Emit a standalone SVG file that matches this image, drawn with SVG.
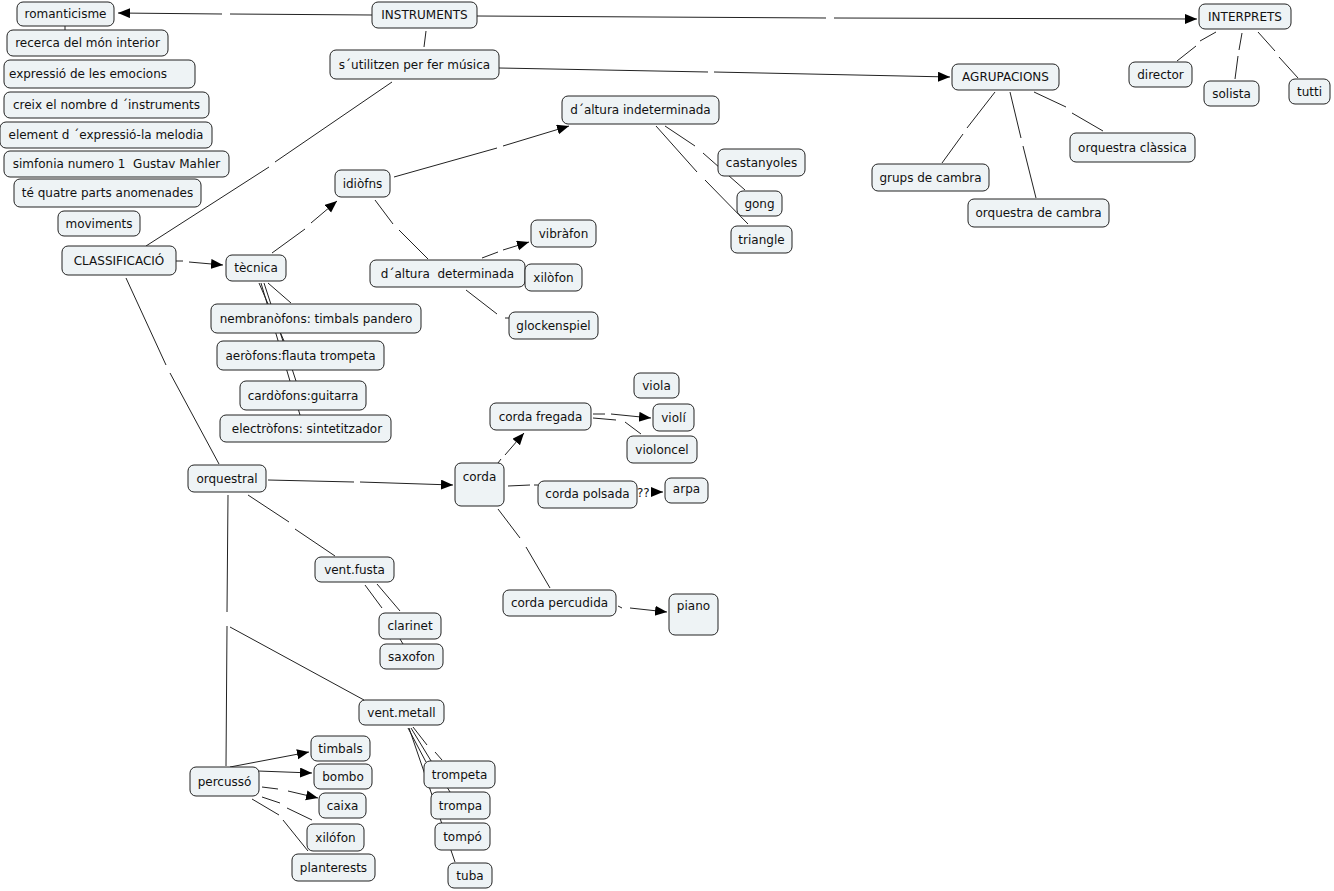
<svg xmlns="http://www.w3.org/2000/svg" width="1334" height="891" viewBox="0 0 1334 891">
<defs>
<marker id="arr" markerUnits="userSpaceOnUse" markerWidth="13" markerHeight="11" refX="12" refY="5" orient="auto"><path d="M0,0 L12,5 L0,10 z" fill="#000"/></marker>
<style>
.n rect{fill:#eef3f5;stroke:#222;stroke-width:1}
.n text{font-family:"DejaVu Sans",Verdana,sans-serif;font-size:12px;fill:#111;text-anchor:middle;white-space:pre}
#links path{fill:none;stroke:#222;stroke-width:1}
#links .a{marker-end:url(#arr)}
.lbl{font-family:"DejaVu Sans",Verdana,sans-serif;font-size:12px;fill:#111}
</style>
</defs>
<rect width="1334" height="891" fill="#fff"/>
<g id="links">
<path class="a" d="M372,15 L230,14 M222,14 L118,13"/>
<path class="a" d="M477,16 L826,18 M834,18 L1197,19"/>
<path d="M426,31 L424,47"/>
<path class="a" d="M499,68 L708,72 M714,72 L950,77"/>
<path d="M392,82 L275,162 M269,167 L146,246"/>
<path d="M65,26 L65,30"/>
<path d="M1216,32 L1200,41 M1196,46 L1177,61"/>
<path d="M1242,33 L1239,50 M1238,56 L1235,79"/>
<path d="M1258,32 L1275,51 M1279,57 L1298,78"/>
<path d="M995,92 L967,128 M963,134 L942,163"/>
<path d="M1010,92 L1021,138 M1023,146 L1036,198"/>
<path d="M1034,92 L1066,107 M1072,113 L1103,131"/>
<path class="a" d="M394,177 L497,148 M503,146 L569,126"/>
<path d="M665,126 L695,146 M703,153 L745,190"/>
<path d="M656,126 L697,172 M705,180 L748,224"/>
<path class="a" d="M272,253 L305,229 M311,223 L337,201"/>
<path d="M375,200 L393,224 M399,230 L428,259"/>
<path class="a" d="M482,258 L498,252 M503,250 L529,242"/>
<path d="M523,276 L527,276"/>
<path d="M466,290 L497,314 M505,318 L509,318"/>
<path class="a" d="M176,261 L183,261 M189,262 L223,265"/>
<path d="M126,278 L166,365 M170,373 L219,464"/>
<path d="M268,283 L291,303"/>
<path d="M264,283 L296,381"/>
<path d="M261,283 L300,415"/>
<path d="M259,283 L284,341"/>
<path class="a" d="M268,480 L354,482 M360,482 L453,485"/>
<path d="M248,495 L289,522 M295,529 L335,556"/>
<path d="M228,495 L227,612 M227,626 L226,766"/>
<path d="M230,627 L364,700"/>
<path d="M365,585 L382,608"/>
<path d="M377,584 L400,611"/>
<path d="M400,639 L403,644"/>
<path class="a" d="M498,463 L501,459 M505,455 L524,433"/>
<path d="M508,486 L530,485 M534,485 L538,485"/>
<path d="M498,509 L520,538 M526,547 L550,588"/>
<path class="a" d="M593,414 L605,414 M611,414 L651,418"/>
<path d="M593,418 L616,420 M625,422 L641,434"/>
<path class="a" d="M652,492 L663,492"/>
<path class="a" d="M618,606 L622,608 M630,608 L667,612"/>
<path d="M408,728 L426,762"/>
<path d="M411,728 L450,792"/>
<path d="M413,727 L427,745 M435,752 L442,760"/>
<path d="M409,728 L455,862"/>
<path class="a" d="M230,767 L309,752"/>
<path class="a" d="M258,771 L312,773"/>
<path class="a" d="M262,787 L278,789 M288,791 L318,798"/>
<path d="M262,797 L280,803 M287,808 L312,820"/>
<path d="M252,799 L279,815 M283,820 L308,851"/>
<text class="lbl" x="637" y="497">??</text>
</g>
<g id="romanticisme" class="n"><rect x="17" y="2" width="97" height="24" rx="6"/><text x="65.5" y="18">romanticisme</text></g>
<g id="recerca" class="n"><rect x="7" y="30" width="161" height="26" rx="6"/><text x="87.5" y="47">recerca del món interior</text></g>
<g id="expressio" class="n"><rect x="4" y="60" width="191" height="28" rx="6"/><text x="88" y="78">expressió de les emocions</text></g>
<g id="creix" class="n"><rect x="4" y="92" width="205" height="26" rx="6"/><text x="106.5" y="109">creix el nombre d ´instruments</text></g>
<g id="element" class="n"><rect x="0" y="122" width="212" height="26" rx="6"/><text x="106" y="139">element d ´expressió-la melodia</text></g>
<g id="simfonia" class="n"><rect x="4" y="151" width="225" height="26" rx="6"/><text x="116.5" y="168" xml:space="preserve">simfonia numero 1  Gustav Mahler</text></g>
<g id="quatre" class="n"><rect x="14" y="179" width="187" height="28" rx="6"/><text x="107.5" y="197">té quatre parts anomenades</text></g>
<g id="moviments" class="n"><rect x="58" y="211" width="82" height="25" rx="6"/><text x="99" y="228">moviments</text></g>
<g id="instruments" class="n"><rect x="372" y="2" width="105" height="26" rx="6"/><text x="424.5" y="19">INSTRUMENTS</text></g>
<g id="sutilitzen" class="n"><rect x="330" y="50" width="169" height="29" rx="6"/><text x="414.5" y="69">s´utilitzen per fer música</text></g>
<g id="interprets" class="n"><rect x="1199" y="4" width="92" height="25" rx="6"/><text x="1245" y="21">INTERPRETS</text></g>
<g id="director" class="n"><rect x="1129" y="62" width="63" height="25" rx="6"/><text x="1160.5" y="79">director</text></g>
<g id="solista" class="n"><rect x="1204" y="81" width="55" height="25" rx="6"/><text x="1231.5" y="98">solista</text></g>
<g id="tutti" class="n"><rect x="1289" y="79" width="41" height="25" rx="6"/><text x="1309.5" y="96">tutti</text></g>
<g id="agrupacions" class="n"><rect x="952" y="64" width="107" height="26" rx="6"/><text x="1005.5" y="81">AGRUPACIONS</text></g>
<g id="grups" class="n"><rect x="872" y="164" width="117" height="27" rx="6"/><text x="930.5" y="182">grups de cambra</text></g>
<g id="orqcambra" class="n"><rect x="968" y="199" width="141" height="28" rx="6"/><text x="1038.5" y="217">orquestra de cambra</text></g>
<g id="orqclassica" class="n"><rect x="1070" y="133" width="125" height="29" rx="6"/><text x="1132.5" y="152">orquestra clàssica</text></g>
<g id="indeterminada" class="n"><rect x="562" y="96" width="157" height="28" rx="6"/><text x="640.5" y="114">d´altura indeterminada</text></g>
<g id="castanyoles" class="n"><rect x="718" y="149" width="87" height="27" rx="6"/><text x="761.5" y="167">castanyoles</text></g>
<g id="gong" class="n"><rect x="737" y="191" width="45" height="25" rx="6"/><text x="759.5" y="208">gong</text></g>
<g id="triangle" class="n"><rect x="731" y="226" width="61" height="27" rx="6"/><text x="761.5" y="244">triangle</text></g>
<g id="idiofns" class="n"><rect x="335" y="170" width="55" height="27" rx="6"/><text x="362.5" y="188">idiòfns</text></g>
<g id="classificacio" class="n"><rect x="62" y="246" width="114" height="29" rx="6"/><text x="119" y="265">CLASSIFICACIÓ</text></g>
<g id="tecnica" class="n"><rect x="226" y="255" width="60" height="26" rx="6"/><text x="256" y="272">tècnica</text></g>
<g id="determinada" class="n"><rect x="370" y="260" width="155" height="27" rx="6"/><text x="447.5" y="278" xml:space="preserve">d´altura  determinada</text></g>
<g id="vibrafon" class="n"><rect x="531" y="220" width="65" height="27" rx="6"/><text x="563.5" y="238">vibràfon</text></g>
<g id="xilofon1" class="n"><rect x="525" y="264" width="57" height="27" rx="6"/><text x="553.5" y="282">xilòfon</text></g>
<g id="glockenspiel" class="n"><rect x="509" y="312" width="89" height="27" rx="6"/><text x="553.5" y="330">glockenspiel</text></g>
<g id="nembranofons" class="n"><rect x="211" y="304" width="210" height="29" rx="6"/><text x="316" y="323">nembranòfons: timbals pandero</text></g>
<g id="aerofons" class="n"><rect x="217" y="341" width="167" height="29" rx="6"/><text x="300.5" y="360">aeròfons:flauta trompeta</text></g>
<g id="cardofons" class="n"><rect x="240" y="381" width="126" height="29" rx="6"/><text x="303" y="400">cardòfons:guitarra</text></g>
<g id="electrofons" class="n"><rect x="220" y="415" width="171" height="27" rx="6"/><text x="307" y="433">electròfons: sintetitzador</text></g>
<g id="viola" class="n"><rect x="634" y="373" width="45" height="25" rx="6"/><text x="656.5" y="390">viola</text></g>
<g id="fregada" class="n"><rect x="490" y="403" width="101" height="27" rx="6"/><text x="540.5" y="421">corda fregada</text></g>
<g id="violi" class="n"><rect x="653" y="404" width="41" height="27" rx="6"/><text x="673.5" y="422">violí</text></g>
<g id="violoncel" class="n"><rect x="627" y="436" width="70" height="27" rx="6"/><text x="662" y="454">violoncel</text></g>
<g id="corda" class="n"><rect x="455" y="463" width="49" height="43" rx="6"/><text x="479.5" y="481">corda</text></g>
<g id="polsada" class="n"><rect x="538" y="481" width="99" height="27" rx="6"/><text x="587.5" y="498">corda polsada</text></g>
<g id="arpa" class="n"><rect x="665" y="478" width="43" height="25" rx="6"/><text x="686.5" y="493">arpa</text></g>
<g id="orquestral" class="n"><rect x="188" y="465" width="78" height="27" rx="6"/><text x="227" y="483">orquestral</text></g>
<g id="ventfusta" class="n"><rect x="315" y="557" width="79" height="25" rx="6"/><text x="354.5" y="574">vent.fusta</text></g>
<g id="clarinet" class="n"><rect x="379" y="613" width="62" height="26" rx="6"/><text x="410" y="630">clarinet</text></g>
<g id="saxofon" class="n"><rect x="380" y="644" width="63" height="25" rx="6"/><text x="411.5" y="661">saxofon</text></g>
<g id="percudida" class="n"><rect x="503" y="590" width="113" height="26" rx="6"/><text x="559.5" y="607">corda percudida</text></g>
<g id="piano" class="n"><rect x="669" y="594" width="49" height="41" rx="6"/><text x="693.5" y="610">piano</text></g>
<g id="ventmetall" class="n"><rect x="359" y="700" width="85" height="25" rx="6"/><text x="401.5" y="717">vent.metall</text></g>
<g id="timbals" class="n"><rect x="311" y="736" width="59" height="25" rx="6"/><text x="340.5" y="753">timbals</text></g>
<g id="bombo" class="n"><rect x="314" y="764" width="58" height="25" rx="6"/><text x="343" y="781">bombo</text></g>
<g id="percusso" class="n"><rect x="190" y="767" width="69" height="29" rx="6"/><text x="224.5" y="786">percussó</text></g>
<g id="caixa" class="n"><rect x="319" y="793" width="47" height="25" rx="6"/><text x="342.5" y="810">caixa</text></g>
<g id="xilofon2" class="n"><rect x="307" y="824" width="57" height="27" rx="6"/><text x="335.5" y="842">xilófon</text></g>
<g id="planterests" class="n"><rect x="292" y="854" width="83" height="27" rx="6"/><text x="333.5" y="872">planterests</text></g>
<g id="trompeta" class="n"><rect x="424" y="761" width="71" height="27" rx="6"/><text x="459.5" y="779">trompeta</text></g>
<g id="trompa" class="n"><rect x="431" y="792" width="59" height="27" rx="6"/><text x="460.5" y="810">trompa</text></g>
<g id="tompo" class="n"><rect x="435" y="823" width="55" height="27" rx="6"/><text x="462.5" y="841">tompó</text></g>
<g id="tuba" class="n"><rect x="448" y="863" width="44" height="25" rx="6"/><text x="470" y="880">tuba</text></g>
</svg>
